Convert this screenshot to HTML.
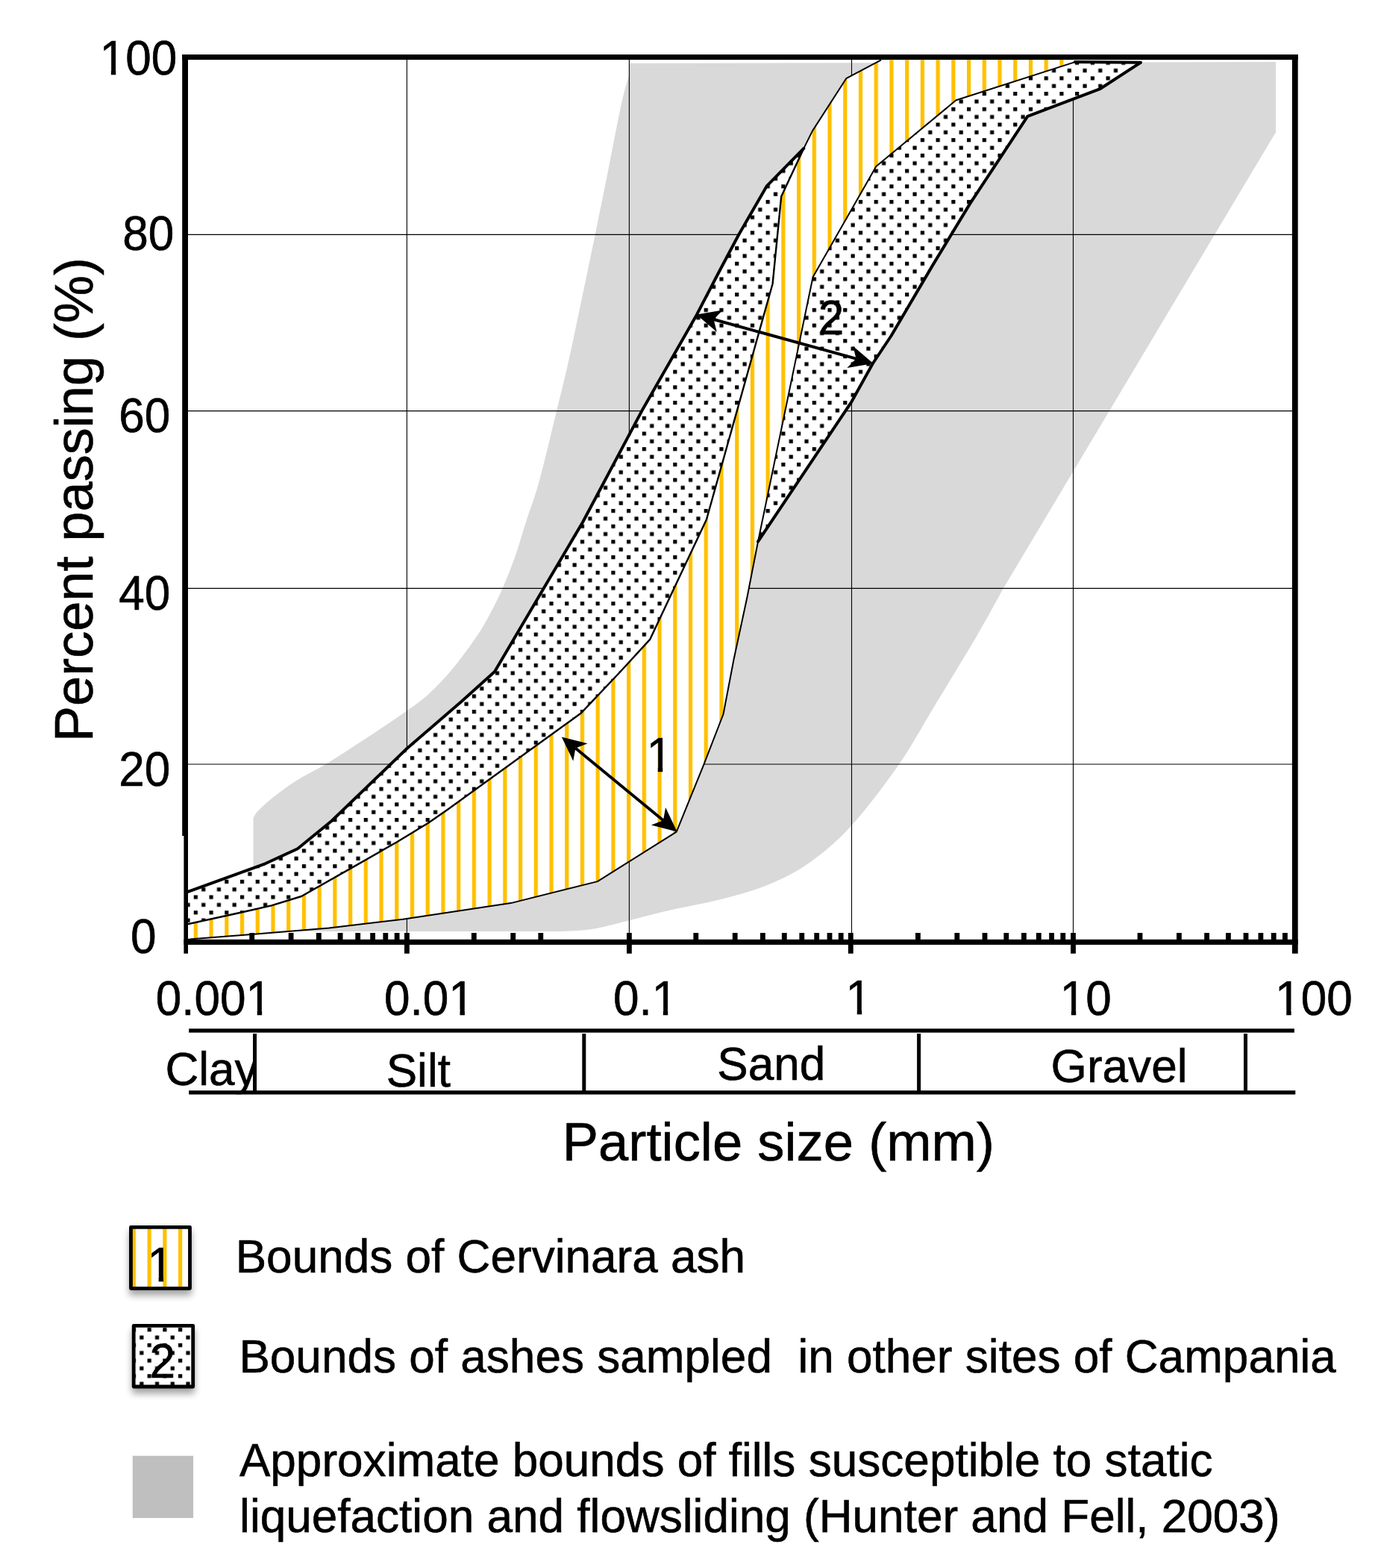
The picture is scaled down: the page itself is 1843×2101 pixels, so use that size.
<!DOCTYPE html>
<html lang="en">
<head>
<meta charset="utf-8">
<title>Grain size distribution</title>
<style>
html,body{margin:0;padding:0;background:#fff;}
body{width:1843px;height:2101px;overflow:hidden;}
svg{display:block;}
text{font-family:"Liberation Sans",sans-serif;fill:#000;stroke:#000;stroke-width:0.6px;}
.t{font-size:62.1px;}
.a{font-size:72.4px;}
</style>
</head>
<body>
<svg width="1843" height="2101" viewBox="0 0 1843 2101" role="img" aria-label="Grain size distribution chart">
<defs>
<pattern id="dots" patternUnits="userSpaceOnUse" x="259.750" y="1220.200" width="20.725" height="20.702">
<rect x="0" y="0" width="20.725" height="20.702" fill="#fff"/>
<rect x="0" y="0" width="5.2" height="5.2" fill="#000"/>
<rect x="10.363" y="10.351" width="5.2" height="5.2" fill="#000"/>
</pattern>
<pattern id="stripes" patternUnits="userSpaceOnUse" x="259.750" y="0" width="20.725" height="20.725">
<rect x="0" y="0" width="20.725" height="20.725" fill="#fff"/>
<rect x="0" y="0" width="5.2" height="20.725" fill="#ffc000"/>
</pattern>
<filter id="sh" x="-30%" y="-30%" width="160%" height="180%">
<feGaussianBlur in="SourceAlpha" stdDeviation="5"/>
<feOffset dx="0" dy="7" result="b"/>
<feComponentTransfer><feFuncA type="linear" slope="0.36"/></feComponentTransfer>
<feMerge><feMergeNode/><feMergeNode in="SourceGraphic"/></feMerge>
</filter>
</defs>
<rect width="1843" height="2101" fill="#fff"/>

<path d="M843.4,84.8 L1710,83.1 L1710,177.2 L1345.2,787.8 C1339.4,798.2 1326.0,823.5 1310.5,850.0 C1295.0,876.5 1269.6,918.0 1252.0,947.0 C1234.4,976.0 1223.5,997.5 1205.1,1024.0 C1186.7,1050.5 1161.6,1084.0 1141.5,1106.0 C1121.4,1128.0 1103.5,1142.8 1084.6,1156.2 C1065.6,1169.6 1047.3,1178.2 1027.8,1186.3 C1008.3,1194.4 989.3,1199.1 967.5,1204.7 C945.7,1210.3 917.8,1215.0 897.2,1219.8 C876.6,1224.5 861.0,1229.0 843.7,1233.2 C826.4,1237.4 809.1,1242.4 793.5,1244.9 C777.9,1247.4 757.2,1247.5 750.0,1248.0 L339.5,1248 L339.5,1095.4 L344.6,1087.8 C347.8,1084.9 355.0,1077.3 363.8,1070.3 C372.6,1063.3 385.0,1053.8 397.3,1046.0 C409.6,1038.2 424.6,1031.1 437.4,1023.4 C450.2,1015.7 462.6,1007.5 474.2,1000.0 C485.8,992.5 496.0,985.8 507.0,978.5 C518.0,971.2 528.9,963.9 540.0,956.0 C551.1,948.1 562.4,940.9 573.5,930.9 C584.6,920.9 595.8,909.2 606.9,895.8 C618.0,882.4 631.5,864.0 640.4,850.6 C649.3,837.2 654.9,825.9 660.5,815.4 C666.1,804.9 668.8,799.5 673.8,787.8 C678.8,776.1 685.4,759.8 690.6,745.2 C695.8,730.6 699.4,716.7 704.8,700.0 C710.1,683.3 715.8,669.9 722.7,645.0 C729.6,620.1 740.2,574.8 746.1,550.6 C752.0,526.4 754.5,516.8 758.4,500.0 C762.3,483.2 762.8,480.9 769.4,450.0 C776.0,419.1 790.1,351.3 797.7,314.4 C805.3,277.5 809.2,257.7 815.1,228.5 C821.0,199.3 828.2,160.6 832.9,139.2 C837.6,117.8 841.6,106.5 843.4,100.0 Z" fill="#d9d9d9"/>
<line x1="545.4" y1="76.6" x2="545.4" y2="1262.3" stroke="#000" stroke-width="1.1"/>
<line x1="843.4" y1="76.6" x2="843.4" y2="1262.3" stroke="#000" stroke-width="1.1"/>
<line x1="1141.5" y1="76.6" x2="1141.5" y2="1262.3" stroke="#000" stroke-width="1.1"/>
<line x1="1438.5" y1="76.6" x2="1438.5" y2="1262.3" stroke="#000" stroke-width="1.1"/>
<line x1="248.1" y1="314.4" x2="1736.0" y2="314.4" stroke="#000" stroke-width="1.1"/>
<line x1="248.1" y1="550.6" x2="1736.0" y2="550.6" stroke="#000" stroke-width="1.1"/>
<line x1="248.1" y1="788.4" x2="1736.0" y2="788.4" stroke="#000" stroke-width="1.1"/>
<line x1="248.1" y1="1024.0" x2="1736.0" y2="1024.0" stroke="#000" stroke-width="1.1"/>
<polygon points="250.0,1195.5 355.4,1157.3 398.9,1137.2 444.5,1100.0 545.4,1003.0 618.5,940.0 663.0,899.9 729.1,787.8 780.9,700.0 860.3,550.6 933.9,421.7 966.0,360.0 990.3,314.3 1027.9,249.1 1077.3,198.9 1077.3,198.9 1047.2,263.3 1035.6,380.2 946.9,696.3 871.1,856.9 831.5,900.0 778.5,955.8 600.0,1084.7 573.6,1103.0 531.2,1128.7 468.7,1164.4 404.0,1201.0 363.8,1213.3 323.7,1222.5 248.1,1239.0" fill="url(#dots)"/>
<polygon points="1016.0,725.7 1089.6,371.3 1174.3,223.1 1281.5,134.3 1440.8,83.1 1529.0,83.7 1475.0,118.8 1377.3,155.8 1300.0,273.1 1250.0,355.6 1194.5,450.0 1169.9,487.0 1141.4,538.3 1016.0,725.7" fill="url(#dots)"/>
<polygon points="248.1,1239.0 323.7,1222.5 363.8,1213.3 404.0,1201.0 468.7,1164.4 531.2,1128.7 573.6,1103.0 600.0,1084.7 778.5,955.8 831.5,900.0 871.1,856.9 946.9,696.3 1035.6,380.2 1047.2,263.3 1077.3,198.9 1089.0,175.4 1134.2,105.2 1181.0,80.4 1440.8,80.1 1440.8,83.1 1281.5,134.3 1174.3,223.1 1089.6,371.3 1016.0,725.7 1001.5,800.0 983.5,883.7 969.5,957.0 943.6,1023.8 906.7,1114.6 800.8,1181.1 684.8,1210.1 600.0,1222.8 540.0,1231.7 440.8,1243.4 340.4,1251.8 248.1,1259.0" fill="url(#stripes)"/>
<polyline points="248.1,1239.0 323.7,1222.5 363.8,1213.3 404.0,1201.0 468.7,1164.4 531.2,1128.7 573.6,1103.0 600.0,1084.7 778.5,955.8 831.5,900.0 871.1,856.9 946.9,696.3 1035.6,380.2 1047.2,263.3 1077.3,198.9" fill="none" stroke="#000" stroke-width="2.4" stroke-linejoin="round"/>
<polyline points="1440.8,83.1 1281.5,134.3 1174.3,223.1 1089.6,371.3 1016.0,725.7 1001.5,800.0 983.5,883.7 969.5,957.0 943.6,1023.8 906.7,1114.6 800.8,1181.1 684.8,1210.1 600.0,1222.8 540.0,1231.7 440.8,1243.4 340.4,1251.8 248.1,1259.0" fill="none" stroke="#000" stroke-width="2.0" stroke-linejoin="round"/>
<polyline points="1077.3,198.9 1089.0,175.4 1134.2,105.2 1181.0,80.4" fill="none" stroke="#000" stroke-width="2" stroke-linejoin="round"/>
<polyline points="250.0,1195.5 355.4,1157.3 398.9,1137.2 444.5,1100.0 545.4,1003.0 618.5,940.0 663.0,899.9 729.1,787.8 780.9,700.0 860.3,550.6 933.9,421.7 966.0,360.0 990.3,314.3 1027.9,249.1 1077.3,198.9" fill="none" stroke="#000" stroke-width="4.0" stroke-linejoin="round" stroke-linecap="round"/>
<polyline points="1440.8,83.1 1529.0,83.7 1475.0,118.8 1377.3,155.8 1300.0,273.1 1250.0,355.6 1194.5,450.0 1169.9,487.0 1141.4,538.3 1016.0,725.7" fill="none" stroke="#000" stroke-width="4.0" stroke-linejoin="round" stroke-linecap="round"/>
<line x1="771.4" y1="1002.6" x2="889.0" y2="1099.2" stroke="#000" stroke-width="3.9"/>
<polygon points="752.8,987.4 768.3,1019.7 771.4,1002.6 787.5,996.3" fill="#000"/>
<polygon points="907.6,1114.4 892.1,1082.1 889.0,1099.2 872.9,1105.5" fill="#000"/>
<line x1="956.6" y1="428.0" x2="1147.5" y2="480.6" stroke="#000" stroke-width="3.9"/>
<polygon points="933.5,421.6 960.8,444.8 956.6,428.0 968.8,415.6" fill="#000"/>
<polygon points="1170.6,487.0 1143.3,463.8 1147.5,480.6 1135.3,493.0" fill="#000"/>
<rect x="334.3" y="1250" width="6.8" height="10" fill="#000"/>
<rect x="386.7" y="1250" width="6.8" height="10" fill="#000"/>
<rect x="423.9" y="1250" width="6.8" height="10" fill="#000"/>
<rect x="452.7" y="1250" width="6.8" height="10" fill="#000"/>
<rect x="476.3" y="1250" width="6.8" height="10" fill="#000"/>
<rect x="496.2" y="1250" width="6.8" height="10" fill="#000"/>
<rect x="513.4" y="1250" width="6.8" height="10" fill="#000"/>
<rect x="528.7" y="1250" width="6.8" height="10" fill="#000"/>
<rect x="631.9" y="1250" width="6.8" height="10" fill="#000"/>
<rect x="684.3" y="1250" width="6.8" height="10" fill="#000"/>
<rect x="721.4" y="1250" width="6.8" height="10" fill="#000"/>
<rect x="929.4" y="1250" width="6.8" height="10" fill="#000"/>
<rect x="981.8" y="1250" width="6.8" height="10" fill="#000"/>
<rect x="1019.0" y="1250" width="6.8" height="10" fill="#000"/>
<rect x="1047.9" y="1250" width="6.8" height="10" fill="#000"/>
<rect x="1071.4" y="1250" width="6.8" height="10" fill="#000"/>
<rect x="1091.3" y="1250" width="6.8" height="10" fill="#000"/>
<rect x="1108.6" y="1250" width="6.8" height="10" fill="#000"/>
<rect x="1123.8" y="1250" width="6.8" height="10" fill="#000"/>
<rect x="1227.0" y="1250" width="6.8" height="10" fill="#000"/>
<rect x="1279.4" y="1250" width="6.8" height="10" fill="#000"/>
<rect x="1316.6" y="1250" width="6.8" height="10" fill="#000"/>
<rect x="1345.4" y="1250" width="6.8" height="10" fill="#000"/>
<rect x="1369.0" y="1250" width="6.8" height="10" fill="#000"/>
<rect x="1388.9" y="1250" width="6.8" height="10" fill="#000"/>
<rect x="1406.2" y="1250" width="6.8" height="10" fill="#000"/>
<rect x="1421.4" y="1250" width="6.8" height="10" fill="#000"/>
<rect x="1524.6" y="1250" width="6.8" height="10" fill="#000"/>
<rect x="1577.0" y="1250" width="6.8" height="10" fill="#000"/>
<rect x="1614.2" y="1250" width="6.8" height="10" fill="#000"/>
<rect x="1643.0" y="1250" width="6.8" height="10" fill="#000"/>
<rect x="1666.6" y="1250" width="6.8" height="10" fill="#000"/>
<rect x="1686.5" y="1250" width="6.8" height="10" fill="#000"/>
<rect x="1703.8" y="1250" width="6.8" height="10" fill="#000"/>
<rect x="1719.0" y="1250" width="6.8" height="10" fill="#000"/>
<rect x="542.0" y="1250" width="6.8" height="27.7" fill="#000"/>
<rect x="840.0" y="1250" width="6.8" height="27.7" fill="#000"/>
<rect x="1136.9" y="1250" width="6.8" height="27.7" fill="#000"/>
<rect x="1435.1" y="1250" width="6.8" height="27.7" fill="#000"/>
<rect x="244.2" y="73.0" width="1495.5" height="7.1" fill="#000"/>
<rect x="246.4" y="1258.8" width="1493.3" height="7.1" fill="#000"/>
<rect x="244.2" y="73.0" width="7.8" height="1047" fill="#000"/>
<rect x="246.4" y="1119" width="5.6" height="158.7" fill="#000"/>
<rect x="1731.9" y="73.0" width="7.8" height="1204.7" fill="#000"/>
<rect x="253.2" y="1378.3" width="1481.7" height="5.3" fill="#000"/>
<rect x="253.2" y="1461.2" width="1483.1" height="5.3" fill="#000"/>
<rect x="339.0" y="1385" width="5" height="78" fill="#000"/>
<rect x="780.3" y="1385" width="5" height="78" fill="#000"/>
<rect x="1229.1" y="1385" width="5" height="78" fill="#000"/>
<rect x="1667.0" y="1385" width="5" height="78" fill="#000"/>
<g filter="url(#sh)"><rect x="175.45" y="1644.45" width="79.05" height="81.85" fill="url(#stripes)" stroke="#000" stroke-width="4.8" stroke-linejoin="round"/></g>
<g filter="url(#sh)"><rect x="179.2" y="1776.4" width="79.5" height="81.6" fill="url(#dots)" stroke="#000" stroke-width="4.8" stroke-linejoin="round"/></g>
<rect x="177.8" y="1950.7" width="81.3" height="83.3" fill="#bfbfbf"/>
<clipPath id="c1"><path clip-rule="evenodd" d="M-20,-80H123.6V30H-20Z M3.53,-6.24H15.17V2H3.53Z M21.55,-6.24H32.70V2H21.55Z"/></clipPath>
<text class="t" transform="translate(133.7,100.1) scale(1,1.035)" clip-path="url(#c1)" xml:space="preserve">100</text>
<text class="t" transform="translate(164.3,335.1) scale(1,1.035)" xml:space="preserve">80</text>
<text class="t" transform="translate(159.2,579.1) scale(1,1.035)" xml:space="preserve">60</text>
<text class="t" transform="translate(159.2,816.9) scale(1,1.035)" xml:space="preserve">40</text>
<text class="t" transform="translate(159.2,1052.9) scale(1,1.035)" xml:space="preserve">20</text>
<text class="t" transform="translate(175.0,1276.8) scale(1,1.035)" xml:space="preserve">0</text>
<clipPath id="c2"><path clip-rule="evenodd" d="M-20,-80H175.4V30H-20Z M124.39,-6.24H136.03V2H124.39Z M142.42,-6.24H153.57V2H142.42Z"/></clipPath>
<text class="t" transform="translate(208.7,1359.6) scale(1,1.035)" clip-path="url(#c2)" xml:space="preserve">0.001</text>
<clipPath id="c3"><path clip-rule="evenodd" d="M-20,-80H140.9V30H-20Z M89.86,-6.24H101.49V2H89.86Z M107.88,-6.24H119.03V2H107.88Z"/></clipPath>
<text class="t" transform="translate(515.0,1359.6) scale(1,1.035)" clip-path="url(#c3)" xml:space="preserve">0.01</text>
<clipPath id="c4"><path clip-rule="evenodd" d="M-20,-80H106.3V30H-20Z M55.32,-6.24H66.96V2H55.32Z M73.34,-6.24H84.50V2H73.34Z"/></clipPath>
<text class="t" transform="translate(821.9,1359.6) scale(1,1.035)" clip-path="url(#c4)" xml:space="preserve">0.1</text>
<clipPath id="c5"><path clip-rule="evenodd" d="M-20,-80H54.5V30H-20Z M3.53,-6.24H15.17V2H3.53Z M21.55,-6.24H32.70V2H21.55Z"/></clipPath>
<text class="t" transform="translate(1133.6,1359.2) scale(1,1.035)" clip-path="url(#c5)" xml:space="preserve">1</text>
<clipPath id="c6"><path clip-rule="evenodd" d="M-20,-80H89.1V30H-20Z M3.53,-6.24H15.17V2H3.53Z M21.55,-6.24H32.70V2H21.55Z"/></clipPath>
<text class="t" transform="translate(1420.7,1359.6) scale(1,1.035)" clip-path="url(#c6)" xml:space="preserve">10</text>
<clipPath id="c7"><path clip-rule="evenodd" d="M-20,-80H123.6V30H-20Z M3.53,-6.24H15.17V2H3.53Z M21.55,-6.24H32.70V2H21.55Z"/></clipPath>
<text class="t" transform="translate(1709.1,1359.6) scale(1,1.035)" clip-path="url(#c7)" xml:space="preserve">100</text>
<clipPath id="c8"><path clip-rule="evenodd" d="M-20,-80H54.5V30H-20Z M3.53,-6.24H15.17V2H3.53Z M21.55,-6.24H32.70V2H21.55Z"/></clipPath>
<text class="t" transform="translate(866.7,1034.0) scale(1,1.035)" clip-path="url(#c8)" xml:space="preserve">1</text>
<text class="t" transform="translate(1096.7,448.0) scale(1,1.035)" xml:space="preserve">2</text>
<clipPath id="c9"><path clip-rule="evenodd" d="M-20,-80H54.5V30H-20Z M3.53,-6.24H15.17V2H3.53Z M21.55,-6.24H32.70V2H21.55Z"/></clipPath>
<text class="t" transform="translate(197.5,1717.1) scale(1,1.035)" clip-path="url(#c9)" xml:space="preserve">1</text>
<text class="t" transform="translate(200.5,1846.0) scale(1,1.035)" xml:space="preserve">2</text>
<clipPath id="cclay"><rect x="-10" y="-70" width="132.2" height="82.2"/></clipPath>
<text class="t" transform="translate(221.4,1454.0)" clip-path="url(#cclay)" xml:space="preserve">Clay</text>
<text class="t" transform="translate(517.7,1456.0)" xml:space="preserve">Silt</text>
<text class="t" transform="translate(961.3,1447.0)" xml:space="preserve">Sand</text>
<text class="t" transform="translate(1408.6,1450.1)" xml:space="preserve">Gravel</text>
<text class="a" transform="translate(753.8,1555.3)" xml:space="preserve">Particle size (mm)</text>
<text class="t" transform="translate(315.7,1705.4)" xml:space="preserve">Bounds of Cervinara ash</text>
<text class="t" transform="translate(320.4,1839.3)" xml:space="preserve">Bounds of ashes sampled  in other sites of Campania</text>
<text class="t" transform="translate(320.9,1977.8)" xml:space="preserve">Approximate bounds of fills susceptible to static</text>
<text class="t" transform="translate(321.1,2052.9)" xml:space="preserve">liquefaction and flowsliding (Hunter and Fell, 2003)</text>
<text class="a" style="font-size:72.1px" transform="translate(124.0,994.0) rotate(-90)">Percent passing (%)</text>
</svg>
</body>
</html>
